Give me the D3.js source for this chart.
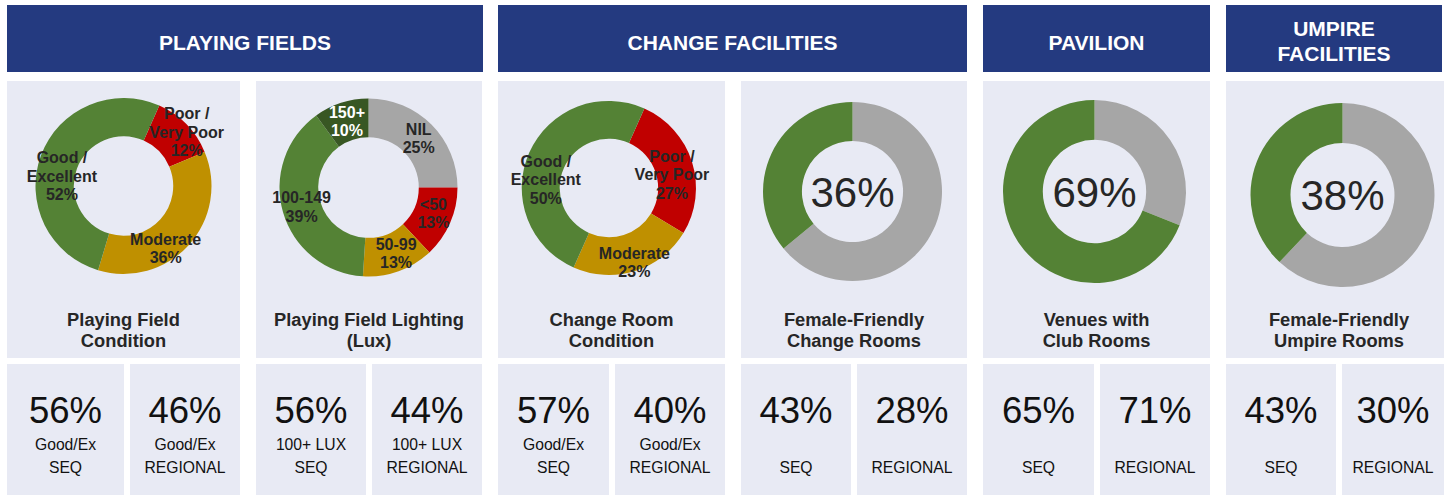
<!DOCTYPE html>
<html>
<head>
<meta charset="utf-8">
<script src="https://cdn.jsdelivr.net/npm/d3@7"></script>
<style>
  body { margin: 0; background: #ffffff; }
  svg { display: block; font-family: "Liberation Sans", Arial, sans-serif; }
</style>
</head>
<body>
<svg id="chart" width="1446" height="495"></svg>
<script>
// section headers
const section_titles = [["PLAYING FIELDS"], ["CHANGE FACILITIES"], ["PAVILION"], ["UMPIRE", "FACILITIES"]];

// donut panels
const panel_titles = [
  ["Playing Field", "Condition"],
  ["Playing Field Lighting", "(Lux)"],
  ["Change Room", "Condition"],
  ["Female-Friendly", "Change Rooms"],
  ["Venues with", "Club Rooms"],
  ["Female-Friendly", "Umpire Rooms"]
];

const field_condition = [
  {name: "Poor /\nVery Poor", value: 12, kind: "poor"},
  {name: "Moderate", value: 36, kind: "moderate"},
  {name: "Good /\nExcellent", value: 52, kind: "good"}
];

const field_lighting = [
  {name: "NIL", value: 25, kind: "none"},
  {name: "<50", value: 13, kind: "poor"},
  {name: "50-99", value: 13, kind: "moderate"},
  {name: "100-149", value: 39, kind: "good"},
  {name: "150+", value: 10, kind: "best"}
];

const change_room_condition = [
  {name: "Poor /\nVery Poor", value: 27, kind: "poor"},
  {name: "Moderate", value: 23, kind: "moderate"},
  {name: "Good /\nExcellent", value: 50, kind: "good"}
];

const female_change_rooms = 36;
const club_rooms = 69;
const female_umpire_rooms = 38;

// comparison boxes under each panel: [SEQ, REGIONAL]
const seq_values = [56, 56, 57, 43, 65, 43];
const regional_values = [46, 44, 40, 28, 71, 30];
const compare_subtitles = ["Good/Ex", "100+ LUX", "Good/Ex", "", "", ""];
const compare_regions = ["SEQ", "REGIONAL"];

// ---------- layout + styles ----------
const colors = {
  header: "#243a80",
  panel: "#e8eaf4",
  good: "#548235",
  best: "#385723",
  poor: "#c00000",
  moderate: "#bf9000",
  none: "#a6a6a6",
  label: "#262626"
};

const header_boxes = [[7, 483], [498, 967], [983, 1210], [1226, 1442]];
const panel_boxes = [[7, 240], [256, 482], [498, 725], [741, 967], [983, 1210], [1226, 1444]];
// left compare box width per panel (the right one takes the rest)
const compare_left_w = [117, 110, 111, 110, 111, 110];
const donut_geo = [
  {cx: 123.5, cy: 186, r: 88},
  {cx: 368.5, cy: 187.5, r: 89},
  {cx: 609, cy: 188, r: 87},
  {cx: 852.5, cy: 191.5, r: 89.5},
  {cx: 1094.5, cy: 191.5, r: 91.5},
  {cx: 1342.5, cy: 195, r: 92}
];
const title_cx = [123.5, 369, 611.5, 854, 1096.5, 1339];
const start_angle = 24 * Math.PI / 180;
const label_nudge = [
  [[14, -6], [-9, 16], [3, 14]],
  [[1, 0], [1, -2], [4, 0], [0, 0], [0, 0]],
  [[-2, 7], [5, 9], [-1, 19]]
];

const svg = d3.select("#chart");

// headers
section_titles.forEach((lines, i) => {
  const [x0, x1] = header_boxes[i];
  const g = svg.append("g");
  g.append("rect")
    .attr("x", x0).attr("y", 5)
    .attr("width", x1 - x0).attr("height", 67)
    .style("fill", colors.header);
  const base = lines.length === 1 ? 49.5 : 35.5;
  g.selectAll("text").data(lines).enter()
    .append("text")
    .attr("x", (x0 + x1) / 2)
    .attr("y", (d, j) => base + j * 25)
    .attr("text-anchor", "middle")
    .style("fill", "#ffffff")
    .style("font-weight", "bold")
    .style("font-size", "21px")
    .text(d => d);
});

// panel backgrounds + titles + compare boxes
panel_boxes.forEach(([x0, x1], i) => {
  svg.append("rect")
    .attr("x", x0).attr("y", 81)
    .attr("width", x1 - x0).attr("height", 277)
    .style("fill", colors.panel);

  svg.append("g").selectAll("text").data(panel_titles[i]).enter()
    .append("text")
    .attr("x", title_cx[i])
    .attr("y", (d, j) => 325.5 + j * 21)
    .attr("text-anchor", "middle")
    .style("font-weight", "bold")
    .style("font-size", "18.3px")
    .style("fill", colors.label)
    .text(d => d);

  const left_w = compare_left_w[i];
  const boxes = [
    {x: x0, w: left_w, value: seq_values[i], region: compare_regions[0]},
    {x: x0 + left_w + 6, w: x1 - x0 - left_w - 6, value: regional_values[i], region: compare_regions[1]}
  ];
  boxes.forEach(b => {
    const cx = b.x + b.w / 2;
    svg.append("rect")
      .attr("x", b.x).attr("y", 364)
      .attr("width", b.w).attr("height", 131)
      .style("fill", colors.panel);
    svg.append("text")
      .attr("x", cx).attr("y", 423)
      .attr("text-anchor", "middle")
      .style("font-size", "36.5px")
      .style("fill", "#111111")
      .text(d3.format("d")(b.value) + "%");
    if (compare_subtitles[i]) {
      svg.append("text")
        .attr("x", cx).attr("y", 449.5)
        .attr("text-anchor", "middle")
        .style("font-size", "15.7px")
        .style("fill", "#111111")
        .text(compare_subtitles[i]);
    }
    svg.append("text")
      .attr("x", cx).attr("y", 472.5)
      .attr("text-anchor", "middle")
      .style("font-size", "15.7px")
      .style("fill", "#111111")
      .text(b.region);
  });
});

// donuts with category labels
const draw_labeled_donut = function(data, geo, nudges, start){
  const g = svg.append("g")
    .attr("transform", `translate(${geo.cx}, ${geo.cy})`);
  const pie = d3.pie().sort(null).value(d => d.value)
    .startAngle(start).endAngle(start + 2 * Math.PI);
  const arc = d3.arc().innerRadius(geo.r * 0.565).outerRadius(geo.r);
  const label_arc = d3.arc().innerRadius(geo.r * 0.7825).outerRadius(geo.r * 0.7825);
  const arcs = pie(data);

  g.selectAll("path").data(arcs).enter()
    .append("path")
    .attr("d", arc)
    .style("fill", d => colors[d.data.kind]);

  arcs.forEach((a, i) => {
    const c = label_arc.centroid(a);
    const lines = a.data.name.split("\n").concat([a.data.value + "%"]);
    const x = c[0] + nudges[i][0];
    const y = c[1] + nudges[i][1];
    g.append("g").selectAll("text").data(lines).enter()
      .append("text")
      .attr("x", x)
      .attr("y", (d, j) => y + (j - (lines.length - 1) / 2) * 18.5 + 5.8)
      .attr("text-anchor", "middle")
      .style("font-weight", "bold")
      .style("font-size", "16px")
      .style("fill", a.data.kind === "best" ? "#ffffff" : colors.label)
      .text(d => d);
  });
};

// single-value donuts: grey remainder first, then green share
const draw_share_donut = function(share, geo){
  const g = svg.append("g")
    .attr("transform", `translate(${geo.cx}, ${geo.cy})`);
  const data = [{kind: "none", value: 100 - share}, {kind: "good", value: share}];
  const pie = d3.pie().sort(null).value(d => d.value);
  const arc = d3.arc().innerRadius(geo.r * 0.565).outerRadius(geo.r);

  g.selectAll("path").data(pie(data)).enter()
    .append("path")
    .attr("d", arc)
    .style("fill", d => colors[d.data.kind]);

  g.append("text")
    .attr("x", 0).attr("y", 15)
    .attr("text-anchor", "middle")
    .style("font-size", "42px")
    .style("fill", colors.label)
    .text(share + "%");
};

draw_labeled_donut(field_condition, donut_geo[0], label_nudge[0], start_angle);
draw_labeled_donut(field_lighting, donut_geo[1], label_nudge[1], 0);
draw_labeled_donut(change_room_condition, donut_geo[2], label_nudge[2], start_angle);
draw_share_donut(female_change_rooms, donut_geo[3]);
draw_share_donut(club_rooms, donut_geo[4]);
draw_share_donut(female_umpire_rooms, donut_geo[5]);
</script>
</body>
</html>
